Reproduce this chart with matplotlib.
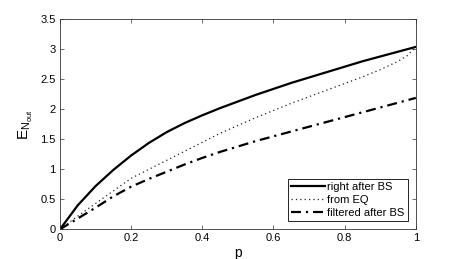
import numpy as np
import matplotlib
matplotlib.use('Agg')
import matplotlib.pyplot as plt

p = [0, 0.05, 0.1, 0.15, 0.2, 0.25, 0.3, 0.35, 0.4, 0.45, 0.5,
     0.55, 0.6, 0.65, 0.7, 0.75, 0.8, 0.85, 0.9, 0.95, 0.975, 1.0]
right_after_bs = [0, 0.40, 0.72, 0.99, 1.23, 1.44, 1.62, 1.77, 1.90, 2.02, 2.13,
                  2.24, 2.34, 2.44, 2.53, 2.62, 2.71, 2.80, 2.88, 2.96, 3.00, 3.04]
from_eq = [0, 0.22, 0.43, 0.64, 0.85, 1.00, 1.15, 1.30, 1.45, 1.60, 1.73,
           1.86, 1.98, 2.10, 2.21, 2.32, 2.43, 2.54, 2.66, 2.80, 2.89, 3.04]
filtered_after_bs = [0, 0.18, 0.36, 0.55, 0.71, 0.84, 0.96, 1.08, 1.19, 1.29, 1.38,
                     1.47, 1.55, 1.63, 1.71, 1.79, 1.87, 1.95, 2.03, 2.11, 2.15, 2.19]

xticks = [0, 0.2, 0.4, 0.6, 0.8, 1]
xticklabels = ['0', '0.2', '0.4', '0.6', '0.8', '1']
yticks = [0, 0.5, 1, 1.5, 2, 2.5, 3, 3.5]
yticklabels = ['0', '0.5', '1', '1.5', '2', '2.5', '3', '3.5']

plt.rcParams['font.family'] = ['Liberation Sans', 'DejaVu Sans']
plt.rcParams['mathtext.fontset'] = 'custom'
plt.rcParams['mathtext.rm'] = 'Liberation Sans'

fig = plt.figure(figsize=(4.6, 2.59), dpi=100)
ax = fig.add_axes([0.1304, 0.1147, 0.7736, 0.8108])

ax.plot(p, right_after_bs, color='black', lw=1.6, linestyle='-', label='right after BS')
ax.plot(p, from_eq, color='#222222', lw=0.9, linestyle=(0, (1, 2.5)), label='from EQ')
ax.plot(p, filtered_after_bs, color='black', lw=1.6, linestyle=(0, (4.5, 2.2, 1, 2.2)), label='filtered after BS')

ax.set_xlim(0, 1)
ax.set_ylim(0, 3.5)
ax.set_xticks(xticks)
ax.set_xticklabels(xticklabels)
ax.set_yticks(yticks)
ax.set_yticklabels(yticklabels)
ax.tick_params(direction='in', top=True, right=True, length=3, width=0.5,
               labelsize=8, colors='#333333', labelcolor='black', pad=3)
for s in ax.spines.values():
    s.set_linewidth(0.6)
    s.set_color('#333333')

ax.set_xlabel('p', fontsize=10, labelpad=2)
ax.set_ylabel(r'$\mathregular{E_{N_{out}}}$', fontsize=11, labelpad=4)

leg = ax.legend(loc='lower right', fontsize=8, fancybox=False, edgecolor='black',
                framealpha=1, handlelength=3.0, handletextpad=0.2, borderpad=0.3,
                labelspacing=0.25, borderaxespad=0.75)
leg.get_frame().set_linewidth(0.6)

plt.savefig('out.png', dpi=100)
